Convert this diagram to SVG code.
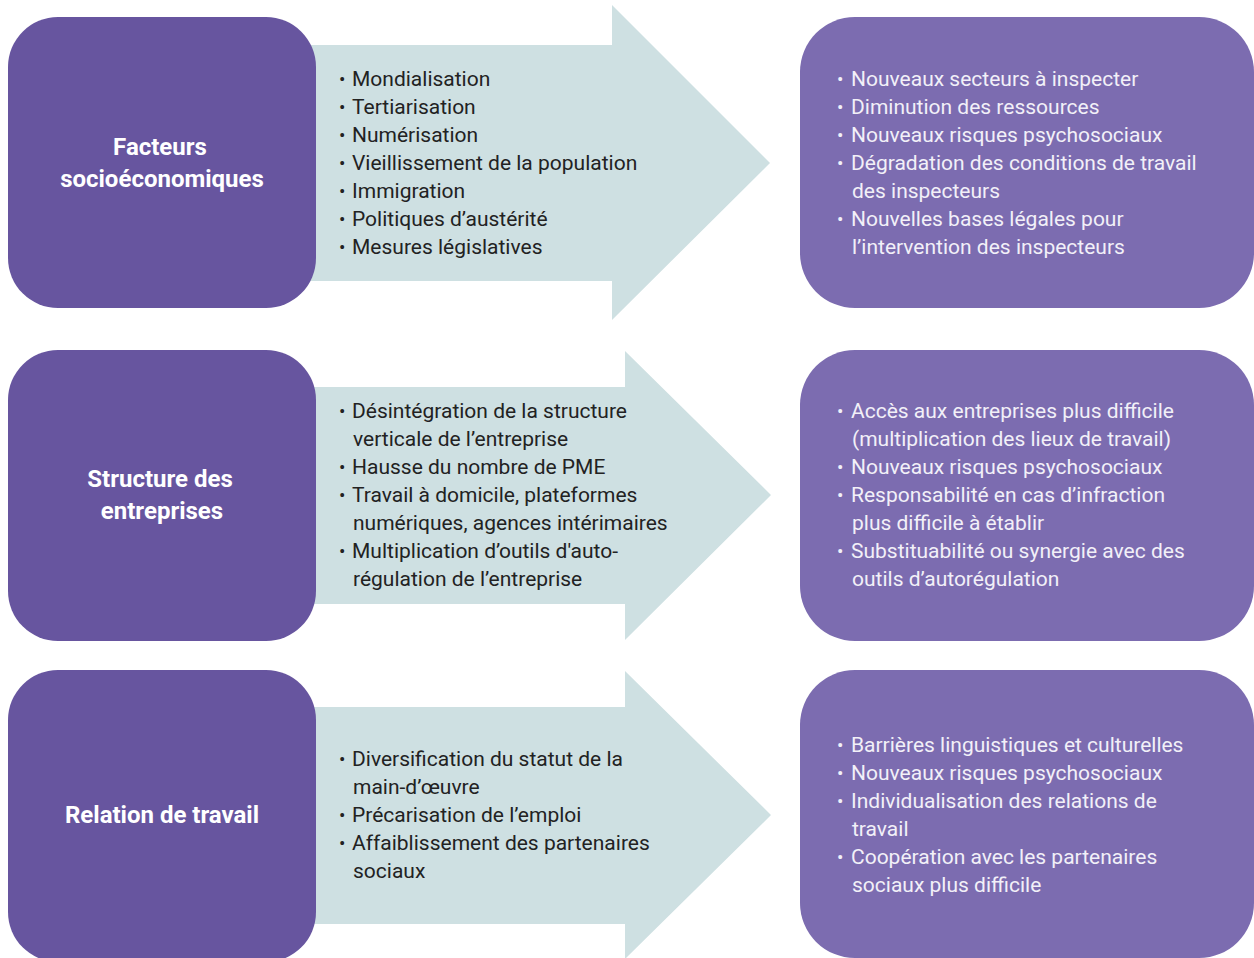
<svg xmlns="http://www.w3.org/2000/svg" width="1254" height="958" viewBox="0 0 1254 958">
<style>
.bg{fill:#ffffff}
.arrow{fill:#CEE0E2}
.lbox{fill:#67559F}
.rbox{fill:#7C6CB0}
.title{font-family:Roboto,"Liberation Sans",sans-serif;font-weight:bold;font-size:24px;fill:#ffffff;text-anchor:middle}
.mid{font-family:Roboto,"Liberation Sans",sans-serif;font-size:21px;fill:#222222}
.rt{font-family:Roboto,"Liberation Sans",sans-serif;font-size:21px;fill:#F2F0F8}
.b{font-size:19px}
</style>
<rect class="bg" x="0" y="0" width="1254" height="958"/>
<g id="connectors">
<polygon id="arrow1" class="arrow" points="300,45 612,45 612,5 770,163 612,320 612,281 300,281"/>
<polygon id="arrow2" class="arrow" points="300,387 625,387 625,351 771,495 625,640 625,604 300,604"/>
<polygon id="arrow3" class="arrow" points="300,707 625,707 625,671 771,815 625,959 625,924 300,924"/>
</g>
<g id="node-facteurs">
<rect class="lbox" x="8" y="17" width="308" height="291" rx="50"/>
<text class="title" x="160" y="155">Facteurs</text>
<text class="title" x="162" y="187">socioéconomiques</text>
</g>
<g id="node-structure">
<rect class="lbox" x="8" y="350" width="308" height="291" rx="50"/>
<text class="title" x="160" y="487">Structure des</text>
<text class="title" x="162" y="519">entreprises</text>
</g>
<g id="node-relation">
<rect class="lbox" x="8" y="670" width="308" height="292" rx="50"/>
<text class="title" x="162" y="823">Relation de travail</text>
</g>
<g id="list-facteurs">
<text class="mid"><tspan class="b" x="339" y="86">•</tspan><tspan x="352" y="86">Mondialisation</tspan></text>
<text class="mid"><tspan class="b" x="339" y="114">•</tspan><tspan x="352" y="114">Tertiarisation</tspan></text>
<text class="mid"><tspan class="b" x="339" y="142">•</tspan><tspan x="352" y="142">Numérisation</tspan></text>
<text class="mid"><tspan class="b" x="339" y="170">•</tspan><tspan x="352" y="170">Vieillissement de la population</tspan></text>
<text class="mid"><tspan class="b" x="339" y="198">•</tspan><tspan x="352" y="198">Immigration</tspan></text>
<text class="mid"><tspan class="b" x="339" y="226">•</tspan><tspan x="352" y="226">Politiques d’austérité</tspan></text>
<text class="mid"><tspan class="b" x="339" y="254">•</tspan><tspan x="352" y="254">Mesures législatives</tspan></text>
</g>
<g id="list-structure">
<text class="mid"><tspan class="b" x="339" y="418">•</tspan><tspan x="352" y="418">Désintégration de la structure</tspan></text>
<text class="mid" x="353" y="446">verticale de l’entreprise</text>
<text class="mid"><tspan class="b" x="339" y="474">•</tspan><tspan x="352" y="474">Hausse du nombre de PME</tspan></text>
<text class="mid"><tspan class="b" x="339" y="502">•</tspan><tspan x="352" y="502">Travail à domicile, plateformes</tspan></text>
<text class="mid" x="353" y="530">numériques, agences intérimaires</text>
<text class="mid"><tspan class="b" x="339" y="558">•</tspan><tspan x="352" y="558">Multiplication d’outils d'auto-</tspan></text>
<text class="mid" x="353" y="586">régulation de l’entreprise</text>
</g>
<g id="list-relation">
<text class="mid"><tspan class="b" x="339" y="766">•</tspan><tspan x="352" y="766">Diversification du statut de la</tspan></text>
<text class="mid" x="353" y="794">main-d’œuvre</text>
<text class="mid"><tspan class="b" x="339" y="822">•</tspan><tspan x="352" y="822">Précarisation de l’emploi</tspan></text>
<text class="mid"><tspan class="b" x="339" y="850">•</tspan><tspan x="352" y="850">Affaiblissement des partenaires</tspan></text>
<text class="mid" x="353" y="878">sociaux</text>
</g>
<g id="node-effets-facteurs">
<rect class="rbox" x="800" y="17" width="454" height="291" rx="55"/>
<text class="rt"><tspan class="b" x="837" y="86">•</tspan><tspan x="851" y="86">Nouveaux secteurs à inspecter</tspan></text>
<text class="rt"><tspan class="b" x="837" y="114">•</tspan><tspan x="851" y="114">Diminution des ressources</tspan></text>
<text class="rt"><tspan class="b" x="837" y="142">•</tspan><tspan x="851" y="142">Nouveaux risques psychosociaux</tspan></text>
<text class="rt"><tspan class="b" x="837" y="170">•</tspan><tspan x="851" y="170">Dégradation des conditions de travail</tspan></text>
<text class="rt" x="852" y="198">des inspecteurs</text>
<text class="rt"><tspan class="b" x="837" y="226">•</tspan><tspan x="851" y="226">Nouvelles bases légales pour</tspan></text>
<text class="rt" x="852" y="254">l’intervention des inspecteurs</text>
</g>
<g id="node-effets-structure">
<rect class="rbox" x="800" y="350" width="454" height="291" rx="55"/>
<text class="rt"><tspan class="b" x="837" y="418">•</tspan><tspan x="851" y="418">Accès aux entreprises plus difficile</tspan></text>
<text class="rt" x="852" y="446">(multiplication des lieux de travail)</text>
<text class="rt"><tspan class="b" x="837" y="474">•</tspan><tspan x="851" y="474">Nouveaux risques psychosociaux</tspan></text>
<text class="rt"><tspan class="b" x="837" y="502">•</tspan><tspan x="851" y="502">Responsabilité en cas d’infraction</tspan></text>
<text class="rt" x="852" y="530">plus difficile à établir</text>
<text class="rt"><tspan class="b" x="837" y="558">•</tspan><tspan x="851" y="558">Substituabilité ou synergie avec des</tspan></text>
<text class="rt" x="852" y="586">outils d’autorégulation</text>
</g>
<g id="node-effets-relation">
<rect class="rbox" x="800" y="670" width="454" height="288" rx="55"/>
<text class="rt"><tspan class="b" x="837" y="752">•</tspan><tspan x="851" y="752">Barrières linguistiques et culturelles</tspan></text>
<text class="rt"><tspan class="b" x="837" y="780">•</tspan><tspan x="851" y="780">Nouveaux risques psychosociaux</tspan></text>
<text class="rt"><tspan class="b" x="837" y="808">•</tspan><tspan x="851" y="808">Individualisation des relations de</tspan></text>
<text class="rt" x="852" y="836">travail</text>
<text class="rt"><tspan class="b" x="837" y="864">•</tspan><tspan x="851" y="864">Coopération avec les partenaires</tspan></text>
<text class="rt" x="852" y="892">sociaux plus difficile</text>
</g>
</svg>
